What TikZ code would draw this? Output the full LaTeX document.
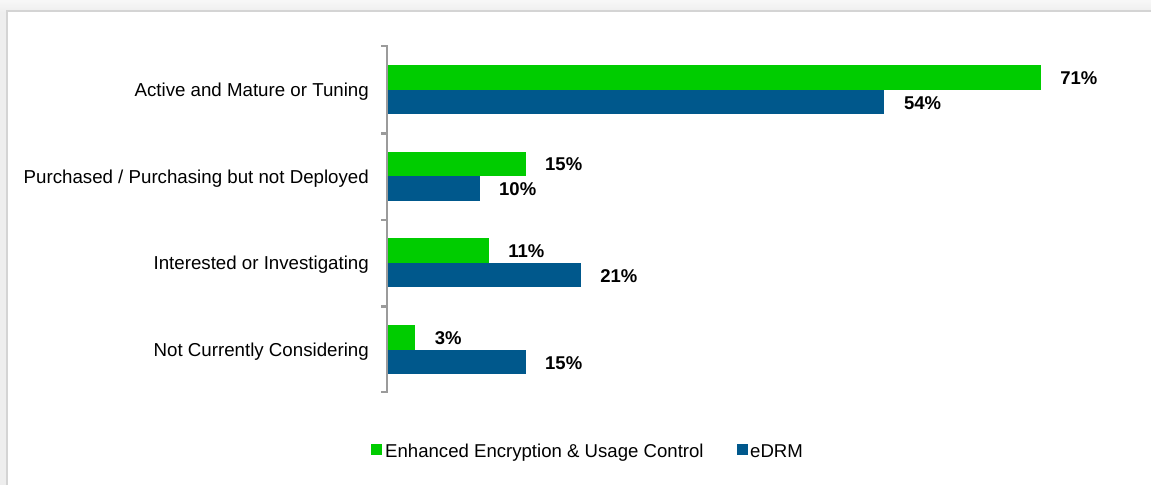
\documentclass[tikz,border=0pt]{standalone}
\usepackage{fontspec}
\setmainfont{Liberation Sans}
\definecolor{grn}{RGB}{0,204,0}
\definecolor{blu}{RGB}{0,88,140}
\definecolor{axisgray}{RGB}{155,155,155}
\definecolor{framegray}{RGB}{212,212,212}
\definecolor{outergray}{RGB}{238,238,238}
\begin{document}
\begin{tikzpicture}[x=1pt,y=-1pt,
  cat/.style={anchor=base east,inner sep=0pt,font=\fontsize{18.7}{22}\selectfont},
  val/.style={anchor=base west,inner sep=0pt,font=\fontsize{18.5}{22}\selectfont\bfseries},
  leg/.style={anchor=base west,inner sep=0pt,font=\fontsize{18.6}{22}\selectfont},
  gbar/.style={fill=grn},
  bbar/.style={fill=blu},
  axisline/.style={draw=axisgray,line width=2.4pt}]
\useasboundingbox (0,0) rectangle (1151,485);
% outer shaded background
\shade[top color=white!97!black,bottom color=outergray] (0,0) rectangle (1151,12);
\fill[outergray] (0,12) rectangle (7,485);
\fill[white] (8,12) rectangle (1151,485);
\draw[framegray,line width=2pt] (7,485) -- (7,11) -- (1151,11);
% bars and labels
\foreach \i/\name/\g/\b in {0/{Active and Mature or Tuning}/71/54,
                           1/{Purchased / Purchasing but not Deployed}/15/10,
                           2/{Interested or Investigating}/11/21,
                           3/{Not Currently Considering}/3/15}{
  \pgfmathsetmacro{\c}{89.5+86.7*\i}
  \pgfmathsetmacro{\ge}{387.5+9.2*\g}
  \pgfmathsetmacro{\be}{387.5+9.2*\b}
  \fill[gbar] (387.5,\c-24.5) rectangle (\ge,\c);
  \fill[bbar] (387.5,\c) rectangle (\be,\c+24.5);
  \node[cat] (cat\i) at (369,\c+7) {\name};
  \node[val] (g\i) at (\ge+19.5,\c-5.3) {\g\%};
  \node[val] (b\i) at (\be+19.5,\c+19.6) {\b\%};
}
% axis
\draw[axisline] (381,46) -- (387,46) -- (387,392) -- (381,392);
\foreach \t in {133.5,220,306.5}{\draw[axisline] (381,\t) -- (387,\t);}
% legend
\fill[grn] (371,444.3) rectangle (381.5,455);
\node[leg] (leg1) at (385,457.3) {Enhanced Encryption \& Usage Control};
\fill[blu] (737.3,444.3) rectangle (747.8,455);
\node[leg] (leg2) at (750,457.3) {eDRM};
\end{tikzpicture}
\end{document}
